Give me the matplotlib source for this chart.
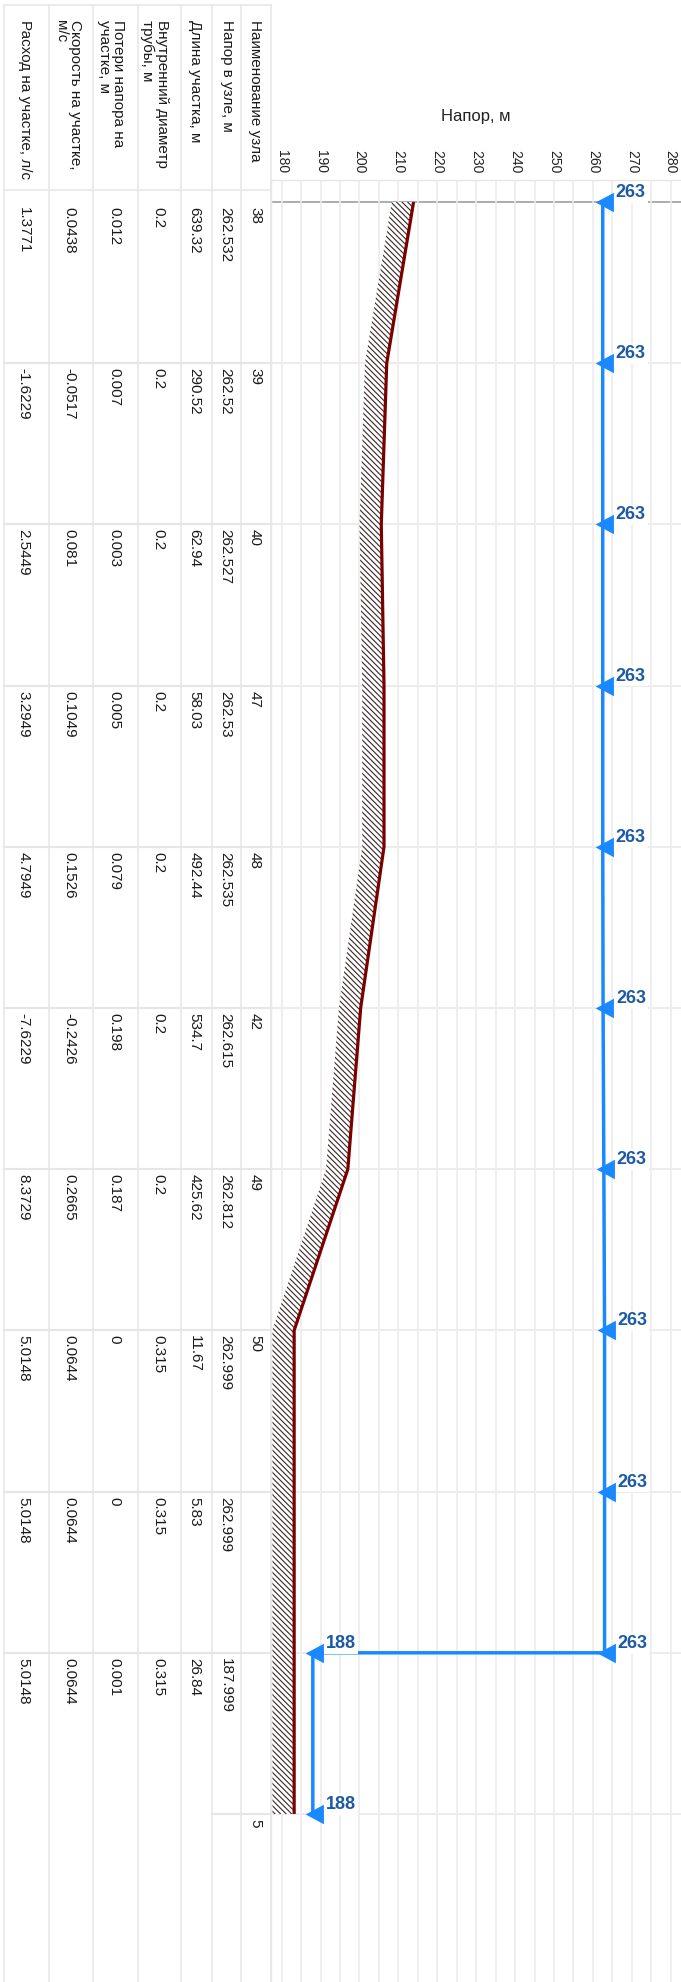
import matplotlib
matplotlib.use("Agg")
import matplotlib.pyplot as plt
import matplotlib.transforms as mtransforms
from matplotlib.lines import Line2D
from matplotlib import font_manager

plt.rcParams['font.family'] = ['Liberation Sans', 'DejaVu Sans']
plt.rcParams['hatch.linewidth'] = 0.8

# ---------------- data ----------------
node_names = ['38', '39', '40', '47', '48', '42', '49', '50', '', '', '5']
head_txt = ['262.532', '262.52', '262.527', '262.53', '262.535', '262.615',
            '262.812', '262.999', '262.999', '187.999', '']
length_txt = ['639.32', '290.52', '62.94', '58.03', '492.44', '534.7',
              '425.62', '11.67', '5.83', '26.84', '']
diam_txt = ['0.2', '0.2', '0.2', '0.2', '0.2', '0.2', '0.2', '0.315', '0.315', '0.315', '']
loss_txt = ['0.012', '0.007', '0.003', '0.005', '0.079', '0.198', '0.187',
            '0', '0', '0.001', '']
vel_txt = ['0.0438', '-0.0517', '0.081', '0.1049', '0.1526', '-0.2426',
           '0.2665', '0.0644', '0.0644', '0.0644', '']
flow_txt = ['1.3771', '-1.6229', '2.5449', '3.2949', '4.7949', '-7.6229',
            '8.3729', '5.0148', '5.0148', '5.0148', '']

header_labels = ['Расход на участке, л/с', 'Скорость на участке,\nм/с',
                 'Потери напора на\nучастке, м', 'Внутренний диаметр\nтрубы, м',
                 'Длина участка, м', 'Напор в узле, м', 'Наименование узла']

ground = [213.9, 207.0, 205.6, 206.3, 206.3, 200.3, 197.0, 183.2, 183.2, 183.2, 183.2]
piezo_pos = [0, 1, 2, 3, 4, 5, 6, 7, 8, 9, 9, 10]
piezo_val = [262.532, 262.52, 262.527, 262.53, 262.535, 262.615, 262.812,
             262.999, 262.999, 262.999, 187.999, 187.999]

head_ticks = [180, 190, 200, 210, 220, 230, 240, 250, 260, 270, 280]

# ---------------- layout ----------------
W, H = 681, 1982
fig = plt.figure(figsize=(W / 100, H / 100), dpi=100)
fig.patch.set_facecolor('white')

ax_left, ax_top = 271, 180
node0_y, row_h = 202, 161.2
x180, px_per_unit = 281.7, 3.89

ax = fig.add_axes([ax_left / W, 0, (W - ax_left) / W, (H - ax_top) / H])
ax.set_xlim(180 - (x180 - ax_left) / px_per_unit, 180 + (W - x180) / px_per_unit)
ax.set_ylim((H - node0_y) / row_h, (ax_top - node0_y) / row_h)

grid_c = '#ececec'
ax.set_xticks(head_ticks)
ax.set_xticks([t + 5 for t in head_ticks[:-1]], minor=True)
ax.xaxis.tick_top()
ax.tick_params(axis='x', which='both', length=0, pad=5, labelsize=10,
               labelrotation=-90, labelcolor='#222222')
ax.set_yticks([])
ax.grid(True, axis='x', which='both', color=grid_c, lw=1.2, zorder=0)
for s in ['right', 'bottom']:
    ax.spines[s].set_visible(False)
for s in ['left', 'top']:
    ax.spines[s].set_color('#e6e6e6')
    ax.spines[s].set_linewidth(1.0)

nrows = len(node_names)
for k in range(1, nrows):
    ax.axhline(k, color=grid_c, lw=1.5, zorder=0.5)
ax.axhline(0, color='#9e9e9e', lw=1.2, zorder=0.6)

# ground profile with hatched band
ypos = list(range(nrows))
band = 5.6
ax.fill_betweenx(ypos, [g - band for g in ground], ground, facecolor='white',
                 edgecolor='#3a2626', hatch='\\' * 6, linewidth=0, zorder=2)
ax.plot(ground, ypos, color='#7a0000', lw=2.3, zorder=3, solid_capstyle='butt')

# piezometric line
blue = '#1a88ff'
lab_c = '#1c5aa6'
ax.plot(piezo_val, piezo_pos, color=blue, lw=2.5, zorder=4, solid_capstyle='butt')

# left-pointing arrowheads at every node of the line
m_arrow = [(-6, 0), (8, 7.5), (8, -7.5), (-6, 0)]
ax.plot(piezo_val, piezo_pos, marker=m_arrow, ms=15, color=blue,
        mew=0, linestyle='none', zorder=5)

names = {f.name for f in font_manager.fontManager.ttflist}
if 'Liberation Sans Narrow' in names:
    lab_font, lab_size = 'Liberation Sans Narrow', 15
else:
    lab_font, lab_size = 'Liberation Sans', 13
for v, p in zip(piezo_val, piezo_pos):
    ax.annotate(f"{v:.0f}", xy=(v, p), xytext=(13, 1), textcoords='offset pixels',
                ha='left', va='bottom', fontsize=lab_size, fontweight='bold',
                family=lab_font, color=lab_c, zorder=6,
                bbox=dict(boxstyle='square,pad=0.1', fc='white', ec='none'))

# title
fig.text(476 / W, 1 - 117 / H, 'Напор, м', ha='center', va='center', fontsize=12,
         color='#222222')

# ---------------- table ----------------
line_c = '#e6e6e6'
col_edges = [4, 49, 93.3, 137.7, 181, 211.7, 240.7, ax_left]
head_x = [24.8, 67.5, 111.2, 154.5, 195.2, 226.6, 255]
val_x = [23.5, 69.5, 114.5, 158.5, 194.5, 225.5, 255]

def fx(x):
    return x / W

def fy(y):
    return 1 - y / H

for xe in col_edges:
    fig.add_artist(Line2D([fx(xe)] * 2, [fy(5), fy(H)], color=line_c, lw=1.1,
                          transform=fig.transFigure))
for yh in [5, 190]:
    fig.add_artist(Line2D([fx(4), fx(ax_left)], [fy(yh)] * 2, color=line_c, lw=1.1,
                          transform=fig.transFigure))

trans = mtransforms.blended_transform_factory(fig.transFigure, ax.transData)
for k in range(1, nrows):
    x0 = col_edges[0] if k < nrows - 1 else col_edges[5]
    fig.add_artist(Line2D([fx(x0), fx(ax_left)], [k, k], color=line_c, lw=1.5,
                          transform=trans))

for x, lab in zip(head_x, header_labels):
    fig.text(fx(x), fy(20), lab, rotation=-90, ha='center', va='top',
             multialignment='left', linespacing=1.0, fontsize=11, color='#1a1a1a')

columns = [flow_txt, vel_txt, loss_txt, diam_txt, length_txt, head_txt, node_names]
val_trans = mtransforms.offset_copy(trans, fig=fig, y=-5, units='dots')
for x, col in zip(val_x, columns):
    for k, t in enumerate(col):
        if t:
            fig.text(fx(x), k, t, rotation=-90, ha='center', va='top', fontsize=11,
                     color='#1a1a1a', transform=val_trans)

fig.savefig('out.png', dpi=100, facecolor='white')
